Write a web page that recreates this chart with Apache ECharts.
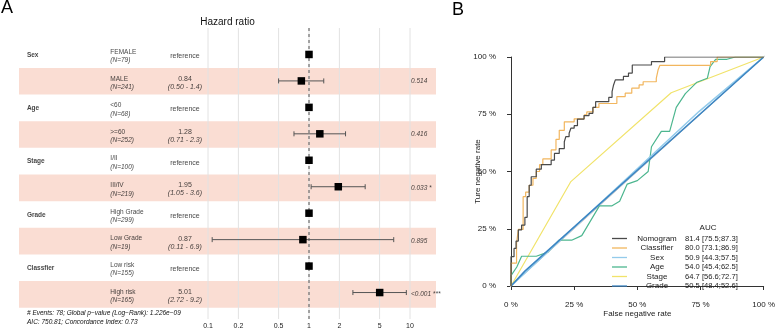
<!DOCTYPE html>
<html><head><meta charset="utf-8">
<script src="https://cdn.jsdelivr.net/npm/echarts@6/dist/echarts.min.js"></script>
<style>html,body{margin:0;padding:0;background:#fff}#c{width:778px;height:330px}</style>
</head><body><div id="c"></div>
<script>
// ---------- Panel A: forest plot data ----------
const variables = ['Sex', 'Age', 'Stage', 'Grade', 'Classfier'];
const levels = ['FEMALE', 'MALE', '<60', '>=60', 'I/II', 'III/IV', 'High Grade', 'Low Grade', 'Low risk', 'High risk'];
const counts = [79, 241, 68, 252, 100, 219, 299, 19, 155, 165];
const hazardRatios = [1, 0.84, 1, 1.28, 1, 1.95, 1, 0.87, 1, 5.01];
const ciLower = [null, 0.50, null, 0.71, null, 1.05, null, 0.11, null, 2.72];
const ciUpper = [null, 1.4, null, 2.3, null, 3.6, null, 6.9, null, 9.2];
const hrLabels = ['reference', '0.84', 'reference', '1.28', 'reference', '1.95', 'reference', '0.87', 'reference', '5.01'];
const ciLabels = ['', '(0.50 - 1.4)', '', '(0.71 - 2.3)', '', '(1.05 - 3.6)', '', '(0.11 - 6.9)', '', '(2.72 - 9.2)'];
const pLabels = ['', '0.514', '', '0.416', '', '0.033 *', '', '0.895', '', '<0.001 ***'];
const hrTicks = [0.1, 0.2, 0.5, 1, 2, 5, 10];
const footerLines = ['# Events: 78; Global p\u2212value (Log\u2212Rank): 1.226e\u221209', 'AIC: 750.81; Concordance Index: 0.73'];

// ---------- Panel B: ROC data ----------
const rocNames = ['Nomogram', 'Classifier', 'Sex', 'Age', 'Stage', 'Grade'];
const aucLabels = ['81.4 [75.5;87.3]', '80.0 [73.1;86.9]', '50.9 [44.3;57.5]', '54.0 [45.4;62.5]', '64.7 [56.6;72.7]', '50.5 [48.4;52.6]'];
const nomogramRoc = [[0,0],[0,0.128],[0.012,0.128],[0.012,0.164],[0.02,0.164],[0.02,0.196],[0.029,0.196],[0.029,0.245],[0.042,0.245],[0.042,0.266],[0.055,0.266],[0.055,0.30],[0.064,0.30],[0.064,0.39],[0.072,0.39],[0.072,0.44],[0.08,0.44],[0.08,0.477],[0.10,0.477],[0.10,0.51],[0.12,0.51],[0.12,0.53],[0.159,0.53],[0.159,0.55],[0.172,0.55],[0.172,0.579],[0.191,0.579],[0.191,0.60],[0.211,0.60],[0.211,0.63],[0.217,0.63],[0.217,0.652],[0.23,0.652],[0.23,0.667],[0.237,0.667],[0.237,0.689],[0.25,0.689],[0.25,0.70],[0.263,0.70],[0.263,0.729],[0.289,0.729],[0.289,0.744],[0.309,0.744],[0.309,0.754],[0.324,0.754],[0.324,0.78],[0.335,0.78],[0.335,0.805],[0.387,0.805],[0.387,0.824],[0.40,0.824],[0.40,0.849],[0.406,0.849],[0.406,0.878],[0.413,0.878],[0.413,0.90],[0.445,0.90],[0.445,0.915],[0.465,0.915],[0.465,0.93],[0.48,0.93],[0.48,0.965],[0.556,0.965],[0.556,0.98],[0.608,0.98],[0.608,1],[1,1]];
const classifierRoc = [[0,0],[0,0.10],[0.022,0.10],[0.022,0.186],[0.029,0.186],[0.029,0.247],[0.048,0.247],[0.048,0.39],[0.058,0.39],[0.058,0.41],[0.072,0.41],[0.072,0.44],[0.087,0.44],[0.087,0.47],[0.10,0.47],[0.10,0.50],[0.113,0.50],[0.113,0.53],[0.126,0.53],[0.126,0.555],[0.159,0.555],[0.159,0.594],[0.178,0.594],[0.178,0.64],[0.191,0.64],[0.191,0.68],[0.211,0.68],[0.211,0.717],[0.25,0.717],[0.25,0.73],[0.29,0.73],[0.29,0.747],[0.30,0.747],[0.30,0.76],[0.325,0.76],[0.325,0.78],[0.348,0.78],[0.348,0.797],[0.419,0.797],[0.419,0.827],[0.452,0.827],[0.452,0.842],[0.478,0.842],[0.478,0.864],[0.507,0.864],[0.507,0.878],[0.523,0.878],[0.523,0.892],[0.575,0.892],[0.575,0.907],[0.582,0.907],[0.582,0.943],[0.589,0.943],[0.589,0.963],[0.79,0.963],[0.79,0.98],[0.816,0.98],[0.816,1],[1,1]];
const sexRoc = [[0,0],[0.745,0.763],[1,1]];
const ageRoc = [[0,0],[0,0.045],[0.023,0.083],[0.042,0.13],[0.10,0.13],[0.146,0.148],[0.19,0.20],[0.24,0.20],[0.28,0.22],[0.35,0.35],[0.40,0.35],[0.43,0.37],[0.46,0.445],[0.50,0.46],[0.543,0.50],[0.556,0.608],[0.595,0.675],[0.628,0.675],[0.654,0.78],[0.69,0.84],[0.736,0.89],[0.777,0.907],[0.788,0.958],[0.81,0.99],[0.855,0.99],[0.888,1],[1,1]];
const stageRoc = [[0,0],[0.237,0.456],[0.634,0.844],[1,1]];
const gradeRoc = [[0,0],[0.055,0.065],[1,1]];
const chanceLine = [[-0.04,-0.04],[1.04,1.04]];

const rocData = [nomogramRoc, classifierRoc, sexRoc, ageRoc, stageRoc, gradeRoc];
const rocColors = ['#4a4a4a', '#F2B65E', '#93CBEB', '#4DB68F', '#F1E36A', '#3D86C3'];

const FONT = '"Liberation Sans", Arial, Helvetica, sans-serif';
const shade = '#FADDD3';

const chart = echarts.init(document.getElementById('c'), null, {renderer: 'canvas'});

const rowAxis = gi => ({gridIndex: gi, type: 'value', min: -0.5, max: 10.5, inverse: true, show: false});
const textScatter = (data, label) => ({
  type: 'scatter', xAxisIndex: 0, yAxisIndex: 0, symbolSize: 0, silent: true, z: 5,
  data: data, label: Object.assign({show: true, color: '#111', fontFamily: FONT}, label)
});

const colVar = 0.019, colLevel = 0.219, colHr = 0.398, colP = 0.94;

const series = [
  // shaded rows
  {
    type: 'custom', xAxisIndex: 0, yAxisIndex: 0, z: 0, silent: true,
    data: levels.map((l, i) => [0, i]).filter(d => d[1] % 2 === 1),
    renderItem: (params, api) => {
      const r = api.value(1);
      const p0 = api.coord([0, r]);
      const p1 = api.coord([1, r + 1]);
      return {type: 'rect', shape: {x: p0[0], y: p0[1], width: p1[0] - p0[0], height: p1[1] - p0[1]}, style: {fill: shade}};
    }
  },
  // variable names
  textScatter(variables.map((v, k) => [colVar, 2 * k + 0.5]),
    {position: 'right', distance: 0, fontWeight: 'bold', fontSize: 6.5, offset: [0, 0.5],
     formatter: p => variables[p.dataIndex]}),
  // level names + N
  textScatter(levels.map((l, i) => [colLevel, i + 0.5]),
    {position: 'right', distance: 0, fontSize: 6.5, lineHeight: 8.5, offset: [0, 1.7],
     formatter: p => '{n|' + levels[p.dataIndex] + '}\n{c|(N=' + counts[p.dataIndex] + ')}',
     rich: {n: {fontSize: 6.5, lineHeight: 8.5, fontFamily: FONT, color: '#111'}, c: {fontSize: 6.5, lineHeight: 8.5, fontStyle: 'italic', fontFamily: FONT, color: '#111'}}}),
  // HR + CI
  textScatter(levels.map((l, i) => [colHr, i + 0.5]),
    {position: 'inside', fontSize: 7, lineHeight: 8, offset: [0, 1.5],
     formatter: p => ciLabels[p.dataIndex] ? '{n|' + hrLabels[p.dataIndex] + '}\n{c|' + ciLabels[p.dataIndex] + '}' : '{r|' + hrLabels[p.dataIndex] + '}',
     rich: {n: {fontSize: 7, lineHeight: 8, fontFamily: FONT, color: '#111', align: 'center'}, c: {fontSize: 7, lineHeight: 8, fontStyle: 'italic', fontFamily: FONT, color: '#111', align: 'center'}, r: {fontSize: 7, fontFamily: FONT, color: '#111'}}}),
  // p values
  textScatter(levels.map((l, i) => [colP, i + 0.5]),
    {position: 'right', distance: 0, fontSize: 6.5, fontStyle: 'italic',
     formatter: p => pLabels[p.dataIndex]}),
  // vertical grid lines at ticks
  {
    type: 'custom', xAxisIndex: 1, yAxisIndex: 1, z: 1, silent: true,
    data: hrTicks.map(t => [t]),
    renderItem: (params, api) => {
      const a = api.coord([api.value(0), -0.5]);
      const b = api.coord([api.value(0), 10.5]);
      return {type: 'line', shape: {x1: a[0], y1: a[1], x2: b[0], y2: b[1]}, style: {stroke: '#e2e2e2', lineWidth: 1}};
    }
  },
  // reference dashed line at HR = 1
  {
    type: 'custom', xAxisIndex: 1, yAxisIndex: 1, z: 2, silent: true,
    data: [[1]],
    renderItem: (params, api) => {
      const a = api.coord([api.value(0), -0.5]);
      const b = api.coord([api.value(0), 10.5]);
      return {type: 'line', shape: {x1: a[0], y1: a[1], x2: b[0], y2: b[1]}, style: {stroke: '#555', lineWidth: 1, lineDash: [3, 3]}};
    }
  },
  // error bars
  {
    type: 'custom', xAxisIndex: 1, yAxisIndex: 1, z: 3, silent: true,
    data: levels.map((l, i) => [ciLower[i], ciUpper[i], i + 0.5]).filter(d => d[0] !== null),
    renderItem: (params, api) => {
      const y = api.value(2);
      const a = api.coord([api.value(0), y]);
      const b = api.coord([api.value(1), y]);
      const st = {stroke: '#555', lineWidth: 1};
      return {type: 'group', children: [
        {type: 'line', shape: {x1: a[0], y1: a[1], x2: b[0], y2: b[1]}, style: st},
        {type: 'line', shape: {x1: a[0], y1: a[1] - 2.5, x2: a[0], y2: a[1] + 2.5}, style: st},
        {type: 'line', shape: {x1: b[0], y1: b[1] - 2.5, x2: b[0], y2: b[1] + 2.5}, style: st}
      ]};
    }
  },
  // squares
  {
    type: 'scatter', xAxisIndex: 1, yAxisIndex: 1, z: 4, silent: true,
    symbol: 'rect', symbolSize: 7.5, itemStyle: {color: '#000', opacity: 1},
    data: hazardRatios.map((h, i) => [h, i + 0.5])
  },
  // ROC chance line
  {
    type: 'line', name: 'chance', xAxisIndex: 2, yAxisIndex: 2, data: chanceLine, clip: false,
    symbol: 'none', silent: true, z: 1, lineStyle: {color: '#c9c9c9', width: 1}
  }
];

const rocOrder = [4, 3, 2, 5, 1, 0];
rocOrder.forEach(k => {
  series.push({
    type: 'line', name: rocNames[k], xAxisIndex: 2, yAxisIndex: 2, data: rocData[k],
    symbol: 'none', silent: true, z: 2 + (k === 0 ? 3 : 0),
    lineStyle: {color: rocColors[k], width: k === 2 || k === 5 ? 1.6 : 1.2},
    itemStyle: {color: rocColors[k]}
  });
});

const axisCol = '#333';
const option = {
  animation: false,
  textStyle: {fontFamily: FONT},
  grid: [
    {left: 19, top: 28, width: 417, height: 293},
    {left: 208, top: 28, width: 202, height: 293},
    {left: 511, top: 57, width: 256, height: 229}
  ],
  xAxis: [
    {gridIndex: 0, type: 'value', min: 0, max: 1, show: false},
    {gridIndex: 1, type: 'log', logBase: 10, min: 0.1, max: 10,
     axisLine: {show: false}, axisTick: {show: false}, splitLine: {show: false},
     axisLabel: {customValues: hrTicks, formatter: v => String(+Number(v).toPrecision(3)), fontSize: 7, color: '#222', margin: 4}},
    {gridIndex: 2, type: 'value', min: 0, max: 1, interval: 0.25, offset: 9,
     axisLine: {show: true, lineStyle: {color: axisCol, width: 1}},
     axisTick: {show: true, length: 4, lineStyle: {color: axisCol}},
     splitLine: {show: false},
     axisLabel: {fontSize: 8, color: '#222', margin: 6, formatter: v => Math.round(v * 100) + ' %'},
     name: 'False negative rate', nameLocation: 'middle', nameGap: 15, nameMoveOverlap: false,
     nameTextStyle: {fontSize: 8, color: '#222'}}
  ],
  yAxis: [
    rowAxis(0), rowAxis(1),
    {gridIndex: 2, type: 'value', min: 0, max: 1, interval: 0.25, offset: 9,
     axisLine: {show: true, lineStyle: {color: axisCol, width: 1}},
     axisTick: {show: true, length: 4, lineStyle: {color: axisCol}},
     splitLine: {show: false},
     axisLabel: {fontSize: 8, color: '#222', margin: 6, formatter: v => Math.round(v * 100) + ' %'},
     name: 'Ture negative rate', nameLocation: 'middle', nameGap: 20, nameRotate: 90, nameMoveOverlap: false,
     nameTextStyle: {fontSize: 8, color: '#222'}}
  ],
  legend: {
    data: rocNames.map(n => ({name: n, icon: 'rect'})), orient: 'vertical', left: 607, top: 229.5,
    itemWidth: 15, itemHeight: 1.3, itemGap: 1.5, selectedMode: false,
    formatter: name => '{a|' + name + '}{b|' + aucLabels[rocNames.indexOf(name)] + '}',
    textStyle: {fontSize: 8, color: '#222', lineHeight: 8,
      rich: {a: {width: 50, align: 'center', fontSize: 8, lineHeight: 8, color: '#222', fontFamily: FONT},
             b: {fontSize: 7.6, lineHeight: 8, color: '#222', padding: [0, 0, 0, 3], fontFamily: FONT}}}
  },
  graphic: [
    {type: 'text', x: 1, y: 8.5, style: {text: 'A', fontSize: 18, fontFamily: FONT, fill: '#000', verticalAlign: 'middle'}},
    {type: 'text', x: 452, y: 10.5, style: {text: 'B', fontSize: 18, fontFamily: FONT, fill: '#000', verticalAlign: 'middle'}},
    {type: 'text', x: 227.5, y: 22, style: {text: 'Hazard ratio', fontSize: 10, fontFamily: FONT, fill: '#111', align: 'center', verticalAlign: 'middle'}},
    {type: 'text', x: 27, y: 313, style: {text: footerLines[0], fontSize: 6.5, fontStyle: 'italic', fontFamily: FONT, fill: '#111', verticalAlign: 'middle'}},
    {type: 'text', x: 27, y: 322, style: {text: footerLines[1], fontSize: 6.5, fontStyle: 'italic', fontFamily: FONT, fill: '#111', verticalAlign: 'middle'}},
    {type: 'text', x: 708, y: 228, style: {text: 'AUC', fontSize: 8, fontFamily: FONT, fill: '#222', align: 'center', verticalAlign: 'middle'}}
  ],
  series: series
};
chart.setOption(option);
</script>
</body></html>
